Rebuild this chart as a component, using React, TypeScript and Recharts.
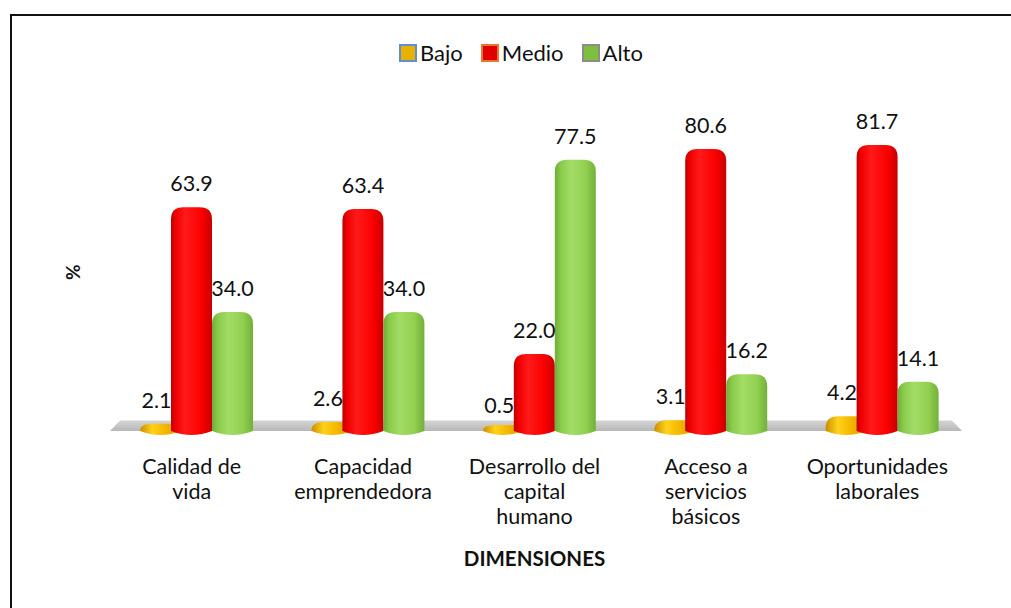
import { BarChart, Bar, XAxis, YAxis, LabelList, ReferenceArea } from 'recharts';

const categories = [
  'Calidad de vida',
  'Capacidad emprendedora',
  'Desarrollo del capital humano',
  'Acceso a servicios básicos',
  'Oportunidades laborales',
];
const tickLines = [
  ['Calidad de', 'vida'],
  ['Capacidad', 'emprendedora'],
  ['Desarrollo del', 'capital', 'humano'],
  ['Acceso a', 'servicios', 'básicos'],
  ['Oportunidades', 'laborales'],
];
const bajo = [2.1, 2.6, 0.5, 3.1, 4.2];
const medio = [63.9, 63.4, 22.0, 80.6, 81.7];
const alto = [34.0, 34.0, 77.5, 16.2, 14.1];

const series = [
  { key: 'bajo', name: 'Bajo', grad: 'gBajo', border: '#5b8fd6', box: '#e8b000', shift: 10, labelShift: 6 },
  { key: 'medio', name: 'Medio', grad: 'gMedio', border: '#e8772e', box: '#e00000', shift: 0, labelShift: 0 },
  { key: 'alto', name: 'Alto', grad: 'gAlto', border: '#8c8c8c', box: '#7fbf3f', shift: 0, labelShift: 0 },
];

const data = categories.map((name, i) => ({
  name,
  bajo: bajo[i],
  medio: medio[i],
  alto: alto[i],
}));

const FONT = 'Lato, "Open Sans", sans-serif';

// cylinder with rounded cap, flat discs for very small values
const Cylinder = (props: any) => {
  const { y, width, height, fill, dx = 0 } = props;
  if (width == null || height == null) return null;
  const x = props.x + dx;
  const base = y + height;
  const top = Math.min(y, base - 6);
  const w = width;
  const ry = Math.min(12, base - top);
  const rx = w * 0.3;
  const e = 4;
  const d = `M${x},${top + ry} Q${x},${top} ${x + rx},${top} L${x + w - rx},${top} Q${x + w},${top} ${x + w},${top + ry} L${x + w},${base} Q${x + w / 2},${base + 2 * e} ${x},${base} Z`;
  return <path d={d} fill={fill} />;
};

const Floor = (props: any) => {
  const { x, y, width, height } = props;
  const d = `M${x + 4},${y + height} L${x + 14},${y} L${x + width - 11},${y} L${x + width - 1},${y + height} Z`;
  return <path d={d} fill="url(#gFloor)" />;
};

const MultiTick = (props: any) => {
  const { x, y, index } = props;
  const lines = tickLines[index] || [];
  return (
    <text x={x} y={y} textAnchor="middle" fontFamily={FONT} fontSize={21.5} fill="#111">
      {lines.map((l, i) => (
        <tspan key={i} x={x} dy={i === 0 ? 31 : 25}>
          {l}
        </tspan>
      ))}
    </text>
  );
};

const YLabel = (props: any) => {
  const vb = props.viewBox || { x: 0, y: 0, width: 0, height: 0 };
  const cx = vb.x + 60;
  const cy = vb.y + vb.height / 2 - 3;
  return (
    <text x={cx} y={cy} transform={`rotate(-90 ${cx} ${cy})`} textAnchor="middle" dominantBaseline="central"
      fontFamily={FONT} fontWeight="bold" fontSize={19} fill="#111">
      %
    </text>
  );
};

const LegendBox = () => (
  <div style={{ position: 'absolute', top: 23, left: 0, width: 1006, display: 'flex', justifyContent: 'center',
    alignItems: 'center', fontFamily: FONT, fontSize: 22, color: '#111', paddingLeft: 30, boxSizing: 'border-box' }}>
    {series.map((s) => (
      <div key={s.key} style={{ display: 'flex', alignItems: 'center', marginRight: 18 }}>
        <svg width={18} height={18} style={{ marginRight: 3 }}>
          <rect x={1} y={1} width={16} height={16} fill={s.box} stroke={s.border} strokeWidth={2} />
        </svg>
        <span>{s.name}</span>
      </div>
    ))}
  </div>
);

export default function App() {
  return (
    <div style={{ position: 'fixed', left: 10, top: 14, width: 1010, height: 600, border: '2px solid #111',
      boxSizing: 'border-box', background: '#fff' }}>
      <div style={{ position: 'relative' }}>
        <LegendBox />
        <BarChart width={996} height={590} data={data} barGap={0} barSize={41}
          margin={{ top: 100, right: 45, left: 0, bottom: 0 }}>
          <defs>
            <linearGradient id="gBajo" x1="0" y1="0" x2="1" y2="0">
              <stop offset="0%" stopColor="#c98f00" />
              <stop offset="30%" stopColor="#ffd21a" />
              <stop offset="60%" stopColor="#f5b800" />
              <stop offset="100%" stopColor="#d49a00" />
            </linearGradient>
            <linearGradient id="gMedio" x1="0" y1="0" x2="1" y2="0">
              <stop offset="0%" stopColor="#c00000" />
              <stop offset="12%" stopColor="#f00000" />
              <stop offset="35%" stopColor="#ff1a1a" />
              <stop offset="75%" stopColor="#fa0000" />
              <stop offset="100%" stopColor="#c80000" />
            </linearGradient>
            <linearGradient id="gAlto" x1="0" y1="0" x2="1" y2="0">
              <stop offset="0%" stopColor="#6fae35" />
              <stop offset="15%" stopColor="#8acb4c" />
              <stop offset="40%" stopColor="#a2dc66" />
              <stop offset="75%" stopColor="#92d050" />
              <stop offset="100%" stopColor="#72b03a" />
            </linearGradient>
            <linearGradient id="gFloor" x1="0" y1="0" x2="0" y2="1">
              <stop offset="0%" stopColor="#d4d4d4" />
              <stop offset="100%" stopColor="#b8b8b8" />
            </linearGradient>
          </defs>
          <XAxis dataKey="name" axisLine={false} tickLine={false} height={171.5} interval={0}
            tick={<MultiTick />}
            label={{ value: 'DIMENSIONES', position: 'insideBottom', offset: 40, fontFamily: FONT, fontWeight: 'bold', fontSize: 20.5, fill: '#111' }} />
          <YAxis domain={[-1, 90]} width={94} axisLine={false} tickLine={false} tick={false} label={<YLabel />} />
          <ReferenceArea y1={0} y2={3} shape={<Floor />} />
          {series.map((s) => (
            <Bar key={s.key} dataKey={s.key} name={s.name} fill={`url(#${s.grad})`} shape={<Cylinder dx={s.shift} />} isAnimationActive={false}>
              <LabelList dataKey={s.key} position="top" offset={16} dx={s.labelShift} formatter={(v: any) => Number(v).toFixed(1)}
                fontFamily={FONT} fontSize={21.5} fill="#111" />
            </Bar>
          ))}
        </BarChart>
      </div>
    </div>
  );
}
